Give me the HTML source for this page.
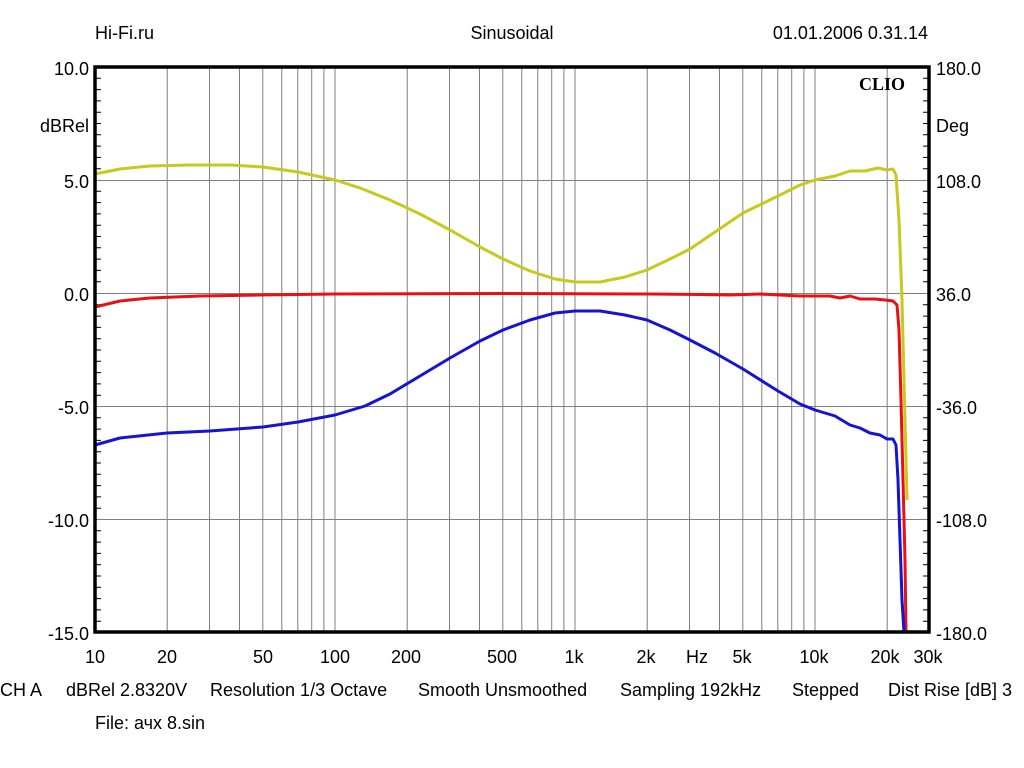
<!DOCTYPE html>
<html><head><meta charset="utf-8"><style>
html,body{margin:0;padding:0;background:#fff;}
svg{display:block;font-family:"Liberation Sans",Arial,sans-serif;}
</style></head><body>
<svg width="1024" height="768" viewBox="0 0 1024 768" xmlns="http://www.w3.org/2000/svg">
<rect width="1024" height="768" fill="#fff"/>
<g font-size="18" fill="#000">
<text x="95" y="39">Hi-Fi.ru</text>
<text x="512" y="39" text-anchor="middle">Sinusoidal</text>
<text x="928" y="39" text-anchor="end">01.01.2006 0.31.14</text>
</g>
<g stroke="#808080" stroke-width="1">
<line x1="167.2" y1="67" x2="167.2" y2="632"/><line x1="209.5" y1="67" x2="209.5" y2="632"/>
<line x1="239.5" y1="67" x2="239.5" y2="632"/><line x1="262.8" y1="67" x2="262.8" y2="632"/>
<line x1="281.8" y1="67" x2="281.8" y2="632"/><line x1="297.8" y1="67" x2="297.8" y2="632"/>
<line x1="311.7" y1="67" x2="311.7" y2="632"/><line x1="323.9" y1="67" x2="323.9" y2="632"/>
<line x1="335" y1="67" x2="335" y2="632"/>
<line x1="407.2" y1="67" x2="407.2" y2="632"/><line x1="449.5" y1="67" x2="449.5" y2="632"/>
<line x1="479.5" y1="67" x2="479.5" y2="632"/><line x1="502.8" y1="67" x2="502.8" y2="632"/>
<line x1="521.8" y1="67" x2="521.8" y2="632"/><line x1="537.8" y1="67" x2="537.8" y2="632"/>
<line x1="551.7" y1="67" x2="551.7" y2="632"/><line x1="563.9" y1="67" x2="563.9" y2="632"/>
<line x1="575" y1="67" x2="575" y2="632"/>
<line x1="647.2" y1="67" x2="647.2" y2="632"/><line x1="689.5" y1="67" x2="689.5" y2="632"/>
<line x1="719.5" y1="67" x2="719.5" y2="632"/><line x1="742.8" y1="67" x2="742.8" y2="632"/>
<line x1="761.8" y1="67" x2="761.8" y2="632"/><line x1="777.8" y1="67" x2="777.8" y2="632"/>
<line x1="791.7" y1="67" x2="791.7" y2="632"/><line x1="803.9" y1="67" x2="803.9" y2="632"/>
<line x1="815" y1="67" x2="815" y2="632"/>
<line x1="887.2" y1="67" x2="887.2" y2="632"/>
<line x1="95" y1="180.5" x2="929" y2="180.5"/><line x1="95" y1="293.5" x2="929" y2="293.5"/>
<line x1="95" y1="406.5" x2="929" y2="406.5"/><line x1="95" y1="519.5" x2="929" y2="519.5"/>
</g>
<g stroke="#000" stroke-width="1">
<path d="M96 78.3h5M96 89.6h5M96 100.9h5M96 112.2h5M96 123.5h5M96 134.8h5M96 146.1h5M96 157.4h5M96 168.7h5M96 191.3h5M96 202.6h5M96 213.9h5M96 225.2h5M96 236.5h5M96 247.8h5M96 259.1h5M96 270.4h5M96 281.7h5M96 304.8h5M96 316.1h5M96 327.4h5M96 338.7h5M96 350h5M96 361.3h5M96 372.6h5M96 383.9h5M96 395.2h5M96 417.8h5M96 429.1h5M96 440.4h5M96 451.7h5M96 463h5M96 474.3h5M96 485.6h5M96 496.9h5M96 508.2h5M96 530.8h5M96 542.1h5M96 553.4h5M96 564.7h5M96 576h5M96 587.3h5M96 598.6h5M96 609.9h5M96 621.2h5"/>
<path d="M928 78.3h-5M928 89.6h-5M928 100.9h-5M928 112.2h-5M928 123.5h-5M928 134.8h-5M928 146.1h-5M928 157.4h-5M928 168.7h-5M928 191.3h-5M928 202.6h-5M928 213.9h-5M928 225.2h-5M928 236.5h-5M928 247.8h-5M928 259.1h-5M928 270.4h-5M928 281.7h-5M928 304.8h-5M928 316.1h-5M928 327.4h-5M928 338.7h-5M928 350h-5M928 361.3h-5M928 372.6h-5M928 383.9h-5M928 395.2h-5M928 417.8h-5M928 429.1h-5M928 440.4h-5M928 451.7h-5M928 463h-5M928 474.3h-5M928 485.6h-5M928 496.9h-5M928 508.2h-5M928 530.8h-5M928 542.1h-5M928 553.4h-5M928 564.7h-5M928 576h-5M928 587.3h-5M928 598.6h-5M928 609.9h-5M928 621.2h-5"/>
</g>
<g fill="none" stroke-width="3" stroke-linejoin="round">
<polyline stroke="#c8c81e" points="95,174 120,169 150,166 190,165 230,165 263,167 298,172 335,180 360,188 390,200 420,214 450,230 480,247 503,259 530,271 555,279 575,282 600,282 625,277 647,270 670,259 690,249 715,232 743,213 778,196 800,185 815,180 835,176 850,171 865,171 878,168 887,170 893,169 896,175 899,220 902,300 904,380 906,460 907,500"/>
<polyline stroke="#e81010" points="95,307 120,301 150,298 200,296 260,295 335,294 500,293.5 650,294 700,294.5 730,295 760,294 800,296 830,296 840,298 850,296 860,299 875,299 885,300 893,301 897,305 899,330 901,400 903,480 905,560 906,632"/>
<polyline stroke="#1414d2" points="95,445 120,438 167,433 210,431 263,427 298,422 335,415 365,406 390,394 420,376 450,358 480,341 503,330 530,320 555,313 575,311 600,311 625,315 647,320 670,330 690,340 715,353 743,369 778,391 800,404 815,410 835,416 850,425 860,428 870,433 880,435 887,439 893,439 896,445 898,480 900,540 902,600 904,632"/>
</g>
<rect x="95" y="67" width="834" height="565" fill="none" stroke="#000" stroke-width="3.5"/>
<text x="905" y="90" font-family="'Liberation Serif',serif" font-weight="bold" font-size="18" text-anchor="end">CLIO</text>
<g font-size="18" fill="#000" text-anchor="end">
<text x="89" y="75">10.0</text><text x="89" y="132">dBRel</text>
<text x="89" y="188">5.0</text><text x="89" y="301">0.0</text>
<text x="89" y="414">-5.0</text><text x="89" y="527">-10.0</text><text x="89" y="640">-15.0</text>
</g>
<g font-size="18" fill="#000">
<text x="936" y="75">180.0</text><text x="936" y="132">Deg</text>
<text x="936" y="188">108.0</text><text x="936" y="301">36.0</text>
<text x="936" y="414">-36.0</text><text x="936" y="527">-108.0</text><text x="936" y="640">-180.0</text>
</g>
<g font-size="18" fill="#000" text-anchor="middle">
<text x="95" y="663">10</text><text x="167" y="663">20</text><text x="263" y="663">50</text>
<text x="335" y="663">100</text><text x="406" y="663">200</text><text x="502" y="663">500</text>
<text x="574" y="663">1k</text><text x="646" y="663">2k</text><text x="697" y="663">Hz</text>
<text x="742" y="663">5k</text><text x="814" y="663">10k</text><text x="885" y="663">20k</text>
<text x="928" y="663">30k</text>
</g>
<g font-size="18" fill="#000">
<text x="0" y="696">CH A</text>
<text x="66" y="696">dBRel 2.8320V</text>
<text x="210" y="696">Resolution 1/3 Octave</text>
<text x="418" y="696">Smooth Unsmoothed</text>
<text x="620" y="696">Sampling 192kHz</text>
<text x="792" y="696">Stepped</text>
<text x="888" y="696">Dist Rise [dB] 3</text>
<text x="95" y="729">File: ачх 8.sin</text>
</g>
</svg>
</body></html>
